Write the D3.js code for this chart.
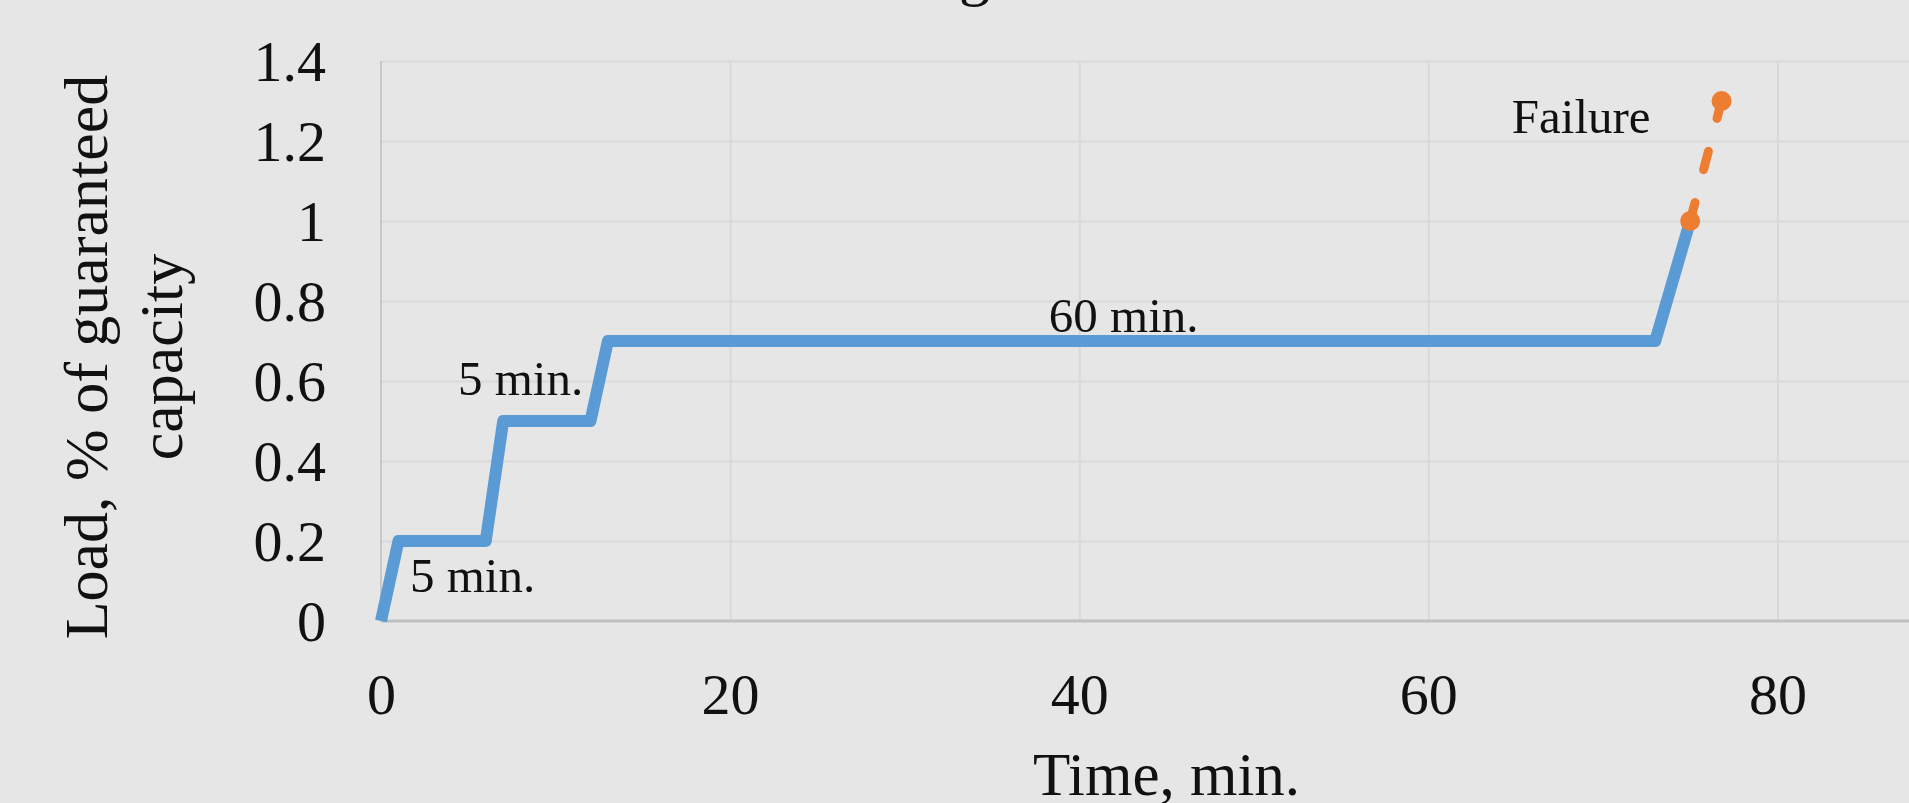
<!DOCTYPE html>
<html>
<head>
  <meta charset="UTF-8">
  <title>Load vs time - d3</title>
  <style>
      html, body {
          margin: 0;
          padding: 0;
          background-color: #e6e6e6;
          overflow: hidden;
      }
      svg {
          display: block;
          font-family: "Liberation Serif", "DejaVu Serif", serif;
      }
      .grid line {
          stroke: #d9d9d9;
          stroke-width: 2;
      }
      .grid path {
          display: none;
      }
      .axis path {
          display: none;
      }
      .axis text {
          fill: #111;
          font-size: 58px;
          font-family: "Liberation Serif", "DejaVu Serif", serif;
      }
  </style>
</head>
<body>
<div id="chart"></div>

<script src="https://cdnjs.cloudflare.com/ajax/libs/d3/7.8.5/d3.min.js"></script>
<script>
// Stepped loading protocol (blue) and the failure ramp (orange)
var stepTime = [0, 1, 6, 7, 12, 13, 73, 75];
var stepLoad = [0, 0.2, 0.2, 0.5, 0.5, 0.7, 0.7, 1.0];

var failTime = [75, 76.8];
var failLoad = [1.0, 1.3];

var xTicks = [0, 20, 40, 60, 80];
var yTicks = [0, 0.2, 0.4, 0.6, 0.8, 1.0, 1.2, 1.4];

// Text labels, anchored in data units (time, load)
var noteText = ['5 min.', '5 min.', '60 min.', 'Failure'];
var noteTime = [1.66, 4.41, 38.26, 64.78];
var noteLoad = [0.0725, 0.565, 0.7225, 1.22];

var width = 1909,
  height = 803;

var layout = {
  left: 381,
  right: 1952,
  top: 61,
  bottom: 621
};

var svg = d3.select('#chart')
  .append('svg')
  .attr('width', width)
  .attr('height', height);

svg.append('rect')
  .attr('width', width)
  .attr('height', height)
  .attr('fill', '#e6e6e6');

var x = d3.scaleLinear()
  .domain([0, 90])
  .range([layout.left, layout.right]);

var y = d3.scaleLinear()
  .domain([0, 1.4])
  .range([layout.bottom, layout.top]);

// Gridlines
svg.append('g')
  .attr('class', 'grid')
  .attr('transform', 'translate(' + layout.left + ',0)')
  .call(d3.axisRight(y)
    .tickValues(yTicks.slice(1))
    .tickSize(layout.right - layout.left)
    .tickFormat(''));

svg.append('g')
  .attr('class', 'grid')
  .attr('transform', 'translate(0,' + layout.top + ')')
  .call(d3.axisBottom(x)
    .tickValues(xTicks.slice(1))
    .tickSize(layout.bottom - layout.top)
    .tickFormat(''));

// Axis lines
svg.append('line')
  .attr('x1', x(0)).attr('x2', x(0))
  .attr('y1', y(1.4)).attr('y2', y(0))
  .attr('stroke', '#c8c8c8')
  .attr('stroke-width', 2);

svg.append('line')
  .attr('x1', x(0)).attr('x2', x(90))
  .attr('y1', y(0)).attr('y2', y(0))
  .attr('stroke', '#bfbfbf')
  .attr('stroke-width', 3);

// Tick labels
svg.append('g')
  .attr('class', 'axis')
  .attr('transform', 'translate(' + layout.left + ',0)')
  .call(d3.axisLeft(y)
    .tickValues(yTicks)
    .tickSize(0)
    .tickPadding(55)
    .tickFormat(function(d) { return String(+d.toFixed(1)); }))
  .selectAll('text')
  .attr('dy', '0.34em');

svg.append('g')
  .attr('class', 'axis')
  .attr('transform', 'translate(0,' + layout.bottom + ')')
  .call(d3.axisBottom(x)
    .tickValues(xTicks)
    .tickSize(0)
    .tickPadding(52));

// Series
var line = d3.line()
  .x(function(d) { return x(d[0]); })
  .y(function(d) { return y(d[1]); });

var stepPts = stepTime.map(function(t, i) { return [t, stepLoad[i]]; });
var failPts = failTime.map(function(t, i) { return [t, failLoad[i]]; });

svg.append('path')
  .datum(stepPts)
  .attr('d', line)
  .attr('fill', 'none')
  .attr('stroke', '#5b9bd5')
  .attr('stroke-width', 12)
  .attr('stroke-linejoin', 'round');

svg.append('path')
  .datum(failPts)
  .attr('d', line)
  .attr('fill', 'none')
  .attr('stroke', '#ed7d31')
  .attr('stroke-width', 9)
  .attr('stroke-linecap', 'round')
  .attr('stroke-dasharray', '19,34');

svg.selectAll('.fail-dot')
  .data(failPts)
  .enter()
  .append('circle')
  .attr('class', 'fail-dot')
  .attr('cx', function(d) { return x(d[0]); })
  .attr('cy', function(d) { return y(d[1]); })
  .attr('r', 10)
  .attr('fill', '#ed7d31');

// Notes
svg.selectAll('.note')
  .data(noteText)
  .enter()
  .append('text')
  .attr('class', 'note')
  .attr('x', function(d, i) { return x(noteTime[i]); })
  .attr('y', function(d, i) { return y(noteLoad[i]); })
  .attr('font-size', 49)
  .attr('fill', '#111')
  .text(function(d) { return d; });

// Axis titles
svg.append('text')
  .attr('x', (layout.left + layout.right) / 2)
  .attr('y', 795)
  .attr('text-anchor', 'middle')
  .attr('font-size', 61)
  .attr('fill', '#111')
  .text('Time, min.');

var yTitle = svg.append('text')
  .attr('transform', 'translate(107,357) rotate(-90)')
  .attr('text-anchor', 'middle')
  .attr('font-size', 62)
  .attr('fill', '#111');

yTitle.append('tspan')
  .attr('x', 0)
  .attr('y', 0)
  .text('Load, % of guaranteed');

yTitle.append('tspan')
  .attr('x', 0)
  .attr('y', 75)
  .text('capacity');

// Chart title, mostly above the visible area
svg.append('text')
  .attr('x', 990)
  .attr('y', -6)
  .attr('text-anchor', 'end')
  .attr('font-size', 62)
  .attr('fill', '#111')
  .text('Loading');
</script>
</body>
</html>
